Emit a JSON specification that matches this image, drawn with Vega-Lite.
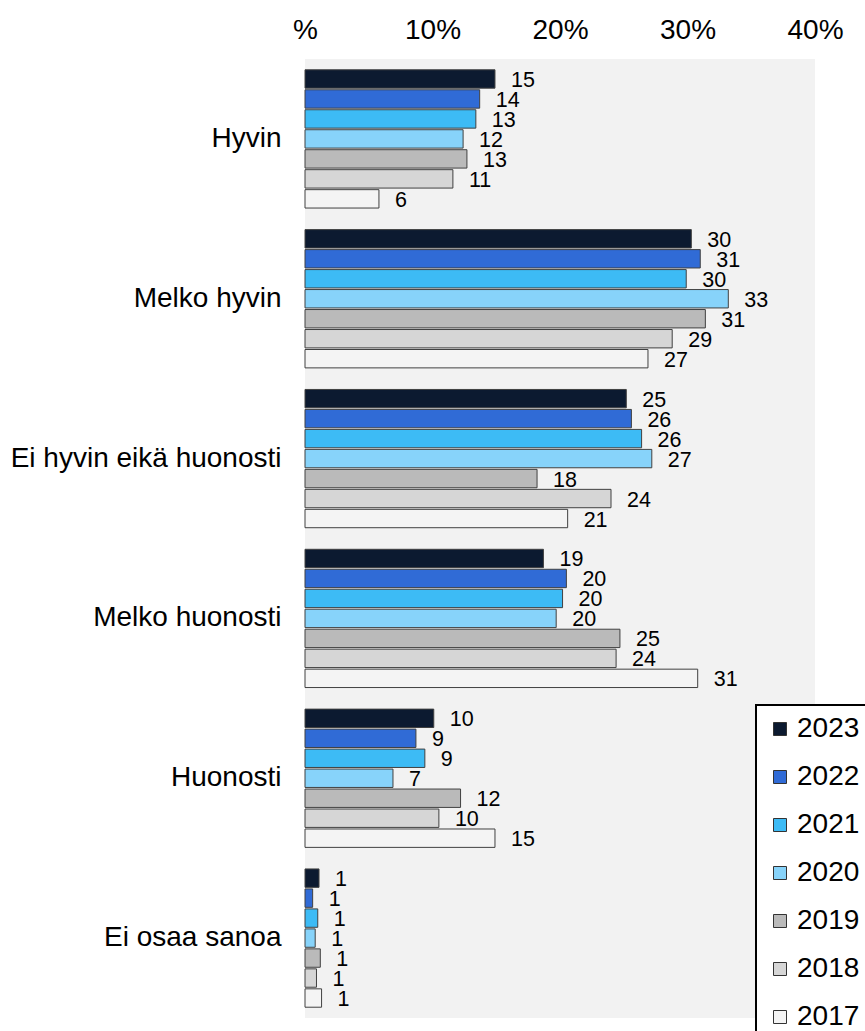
{
  "$schema": "https://vega.github.io/schema/vega-lite/v6.json",
  "autosize": "none",
  "width": 510,
  "height": 959,
  "padding": {"left": 305, "top": 59, "right": 50, "bottom": 13},
  "background": "white",
  "config": {
    "font": "Liberation Sans",
    "view": {"fill": "#f2f2f2", "stroke": null}
  },
  "data": {
    "values": [
      {"vastaus": "Hyvin", "vuosi": "2023", "arvo": 14.9, "label": "15"},
      {"vastaus": "Hyvin", "vuosi": "2022", "arvo": 13.7, "label": "14"},
      {"vastaus": "Hyvin", "vuosi": "2021", "arvo": 13.4, "label": "13"},
      {"vastaus": "Hyvin", "vuosi": "2020", "arvo": 12.4, "label": "12"},
      {"vastaus": "Hyvin", "vuosi": "2019", "arvo": 12.7, "label": "13"},
      {"vastaus": "Hyvin", "vuosi": "2018", "arvo": 11.6, "label": "11"},
      {"vastaus": "Hyvin", "vuosi": "2017", "arvo": 5.8, "label": "6"},
      {"vastaus": "Melko hyvin", "vuosi": "2023", "arvo": 30.3, "label": "30"},
      {"vastaus": "Melko hyvin", "vuosi": "2022", "arvo": 31.0, "label": "31"},
      {"vastaus": "Melko hyvin", "vuosi": "2021", "arvo": 29.9, "label": "30"},
      {"vastaus": "Melko hyvin", "vuosi": "2020", "arvo": 33.2, "label": "33"},
      {"vastaus": "Melko hyvin", "vuosi": "2019", "arvo": 31.4, "label": "31"},
      {"vastaus": "Melko hyvin", "vuosi": "2018", "arvo": 28.8, "label": "29"},
      {"vastaus": "Melko hyvin", "vuosi": "2017", "arvo": 26.9, "label": "27"},
      {"vastaus": "Ei hyvin eikä huonosti", "vuosi": "2023", "arvo": 25.2, "label": "25"},
      {"vastaus": "Ei hyvin eikä huonosti", "vuosi": "2022", "arvo": 25.6, "label": "26"},
      {"vastaus": "Ei hyvin eikä huonosti", "vuosi": "2021", "arvo": 26.4, "label": "26"},
      {"vastaus": "Ei hyvin eikä huonosti", "vuosi": "2020", "arvo": 27.2, "label": "27"},
      {"vastaus": "Ei hyvin eikä huonosti", "vuosi": "2019", "arvo": 18.2, "label": "18"},
      {"vastaus": "Ei hyvin eikä huonosti", "vuosi": "2018", "arvo": 24.0, "label": "24"},
      {"vastaus": "Ei hyvin eikä huonosti", "vuosi": "2017", "arvo": 20.6, "label": "21"},
      {"vastaus": "Melko huonosti", "vuosi": "2023", "arvo": 18.7, "label": "19"},
      {"vastaus": "Melko huonosti", "vuosi": "2022", "arvo": 20.5, "label": "20"},
      {"vastaus": "Melko huonosti", "vuosi": "2021", "arvo": 20.2, "label": "20"},
      {"vastaus": "Melko huonosti", "vuosi": "2020", "arvo": 19.7, "label": "20"},
      {"vastaus": "Melko huonosti", "vuosi": "2019", "arvo": 24.7, "label": "25"},
      {"vastaus": "Melko huonosti", "vuosi": "2018", "arvo": 24.4, "label": "24"},
      {"vastaus": "Melko huonosti", "vuosi": "2017", "arvo": 30.8, "label": "31"},
      {"vastaus": "Huonosti", "vuosi": "2023", "arvo": 10.1, "label": "10"},
      {"vastaus": "Huonosti", "vuosi": "2022", "arvo": 8.7, "label": "9"},
      {"vastaus": "Huonosti", "vuosi": "2021", "arvo": 9.4, "label": "9"},
      {"vastaus": "Huonosti", "vuosi": "2020", "arvo": 6.9, "label": "7"},
      {"vastaus": "Huonosti", "vuosi": "2019", "arvo": 12.2, "label": "12"},
      {"vastaus": "Huonosti", "vuosi": "2018", "arvo": 10.5, "label": "10"},
      {"vastaus": "Huonosti", "vuosi": "2017", "arvo": 14.9, "label": "15"},
      {"vastaus": "Ei osaa sanoa", "vuosi": "2023", "arvo": 1.1, "label": "1"},
      {"vastaus": "Ei osaa sanoa", "vuosi": "2022", "arvo": 0.6, "label": "1"},
      {"vastaus": "Ei osaa sanoa", "vuosi": "2021", "arvo": 1.0, "label": "1"},
      {"vastaus": "Ei osaa sanoa", "vuosi": "2020", "arvo": 0.8, "label": "1"},
      {"vastaus": "Ei osaa sanoa", "vuosi": "2019", "arvo": 1.2, "label": "1"},
      {"vastaus": "Ei osaa sanoa", "vuosi": "2018", "arvo": 0.9, "label": "1"},
      {"vastaus": "Ei osaa sanoa", "vuosi": "2017", "arvo": 1.3, "label": "1"}
    ]
  },
  "encoding": {
    "y": {
      "field": "vastaus",
      "type": "nominal",
      "sort": ["Hyvin", "Melko hyvin", "Ei hyvin eikä huonosti", "Melko huonosti", "Huonosti", "Ei osaa sanoa"],
      "scale": {"paddingInner": 0.125, "paddingOuter": 0.0625},
      "axis": {
        "title": null,
        "domain": false,
        "ticks": false,
        "labelFontSize": 28,
        "labelColor": "black",
        "labelPadding": 24,
        "labelLimit": 0
      }
    },
    "yOffset": {
      "field": "vuosi",
      "type": "nominal",
      "sort": ["2023", "2022", "2021", "2020", "2019", "2018", "2017"],
      "scale": {"paddingInner": 0.08, "paddingOuter": 0.04}
    },
    "x": {
      "field": "arvo",
      "type": "quantitative",
      "scale": {"domain": [0, 40], "nice": false},
      "axis": {
        "orient": "top",
        "title": null,
        "values": [0, 10, 20, 30, 40],
        "labelExpr": "datum.value == 0 ? '%' : datum.value + '%'",
        "labelFlush": false,
        "labelOverlap": false,
        "domain": false,
        "ticks": false,
        "grid": false,
        "labelFontSize": 28,
        "labelColor": "black",
        "labelPadding": 15
      }
    }
  },
  "layer": [
    {
      "mark": {"type": "bar", "stroke": "#404040", "strokeWidth": 1},
      "encoding": {
        "color": {
          "field": "vuosi",
          "type": "nominal",
          "scale": {
            "domain": ["2023", "2022", "2021", "2020", "2019", "2018", "2017"],
            "range": ["#0c1a30", "#306bd6", "#3dbbf5", "#87d3fa", "#bababa", "#d6d6d6", "#f4f4f4"]
          },
          "legend": {
            "title": null,
            "orient": "none",
            "legendX": 451,
            "legendY": 646,
            "direction": "vertical",
            "strokeColor": "black",
            "fillColor": "white",
            "padding": 10,
            "symbolType": "square",
            "symbolSize": 169,
            "symbolStrokeColor": "#333333",
            "symbolStrokeWidth": 1,
            "labelFontSize": 28,
            "labelColor": "black",
            "labelOffset": 3,
            "rowPadding": 20,
            "labelLimit": 0,
            "encode": {"legend": {"update": {"strokeWidth": {"value": 2}}}}
          }
        }
      }
    },
    {
      "mark": {"type": "text", "align": "left", "baseline": "middle", "dx": 16, "dy": 2, "fontSize": 21.5, "color": "black"},
      "encoding": {
        "text": {"field": "label", "type": "nominal"}
      }
    }
  ]
}
